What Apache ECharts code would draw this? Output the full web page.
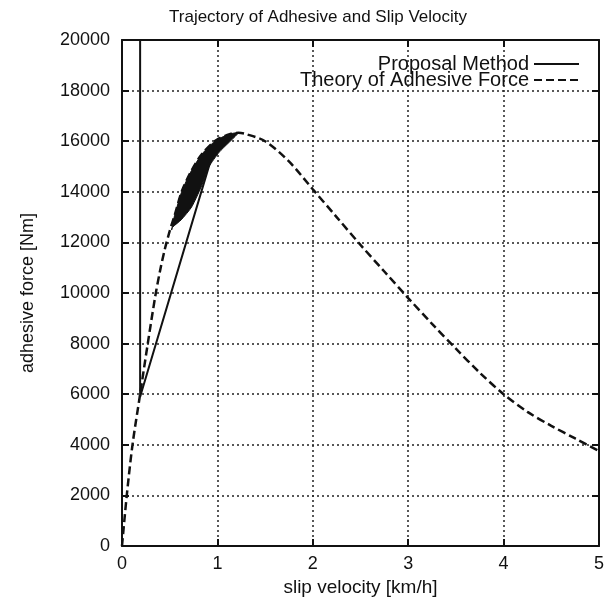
<!DOCTYPE html>
<html>
<head>
<meta charset="utf-8">
<script src="https://cdn.jsdelivr.net/npm/echarts@6/dist/echarts.min.js"></script>
<style>html,body{margin:0;padding:0;background:#fff;}#c{width:607px;height:602px;}</style>
</head>
<body>
<div id="c"></div>
<script>
// Theory of Adhesive Force (dashed)
const theoryX = [0, 0.05, 0.11, 0.19, 0.27, 0.35, 0.4, 0.45, 0.5, 0.55, 0.63, 0.73, 0.84, 0.99, 1.15, 1.22, 1.3, 1.5, 1.75, 2.0, 2.25, 2.5, 2.75, 3.0, 3.25, 3.5, 3.75, 4.0, 4.25, 4.5, 4.75, 5.0];
const theoryY = [0, 2000, 4000, 6000, 8000, 9900, 10900, 11750, 12450, 13050, 14050, 14850, 15500, 16050, 16300, 16330, 16280, 16000, 15200, 14100, 13000, 11900, 10850, 9800, 8780, 7800, 6850, 6000, 5300, 4750, 4250, 3750];
// Proposal Method trajectory (solid)
const proposalX = [0.19, 0.19, 0.95];
const proposalY = [20000, 5900, 15500];
// Proposal Method oscillation band outline (filled)
const blobX = [0.52, 0.55, 0.63, 0.73, 0.84, 0.99, 1.15, 1.22, 1.02, 0.91, 0.83, 0.73, 0.62, 0.53];
const blobY = [12490, 13050, 14050, 14850, 15500, 16050, 16300, 16330, 15570, 14980, 14190, 13400, 12890, 12600];
// Axis ticks
const xMin = 0, xMax = 5, xStep = 1;
const yMin = 0, yMax = 20000, yStep = 2000;

const ink = '#111';
const font = 'Liberation Sans, Arial, Helvetica, sans-serif';
const chart = echarts.init(document.getElementById('c'), null, {renderer: 'canvas'});

const axisCommon = {
  type: 'value',
  axisLine: {show: true, onZero: false, lineStyle: {color: ink, width: 2}},
  axisTick: {show: true, inside: true, length: 7, lineStyle: {color: ink, width: 2}},
};
const legendCommon = {
  right: 22, align: 'right', itemWidth: 45, itemHeight: 10, itemGap: 0,
  itemStyle: {color: 'transparent', borderColor: 'transparent', borderWidth: 0, opacity: 0},
  textStyle: {fontFamily: font, fontSize: 20, color: ink}
};

chart.setOption({
  animation: false,
  backgroundColor: '#fff',
  title: {
    text: 'Trajectory of Adhesive and Slip Velocity',
    left: 313, top: 4, textAlign: 'center',
    textStyle: {fontFamily: font, fontSize: 17, fontWeight: 'normal', color: ink}
  },
  grid: {left: 122, right: 3, top: 40, bottom: 56, containLabel: false},
  legend: [
    Object.assign({data: ['Proposal Method'], top: 49}, legendCommon),
    Object.assign({data: ['Theory of Adhesive Force'], top: 65}, legendCommon)
  ],
  xAxis: [
    Object.assign({}, axisCommon, {
      min: xMin, max: xMax, interval: xStep, position: 'bottom',
      name: 'slip velocity [km/h]', nameLocation: 'middle', nameGap: 23,
      nameTextStyle: {fontFamily: font, fontSize: 19, color: ink},
      axisLabel: {fontFamily: font, fontSize: 18, color: ink, margin: 9},
      splitLine: {show: true, lineStyle: {color: '#222', width: 1.5, type: [2, 3]}}
    }),
    Object.assign({}, axisCommon, {
      min: xMin, max: xMax, interval: xStep, position: 'top',
      axisLabel: {show: false}, splitLine: {show: false}
    })
  ],
  yAxis: [
    Object.assign({}, axisCommon, {
      min: yMin, max: yMax, interval: yStep, position: 'left',
      name: 'adhesive force [Nm]', nameLocation: 'middle', nameGap: 85,
      nameTextStyle: {fontFamily: font, fontSize: 18, color: ink},
      axisLabel: {fontFamily: font, fontSize: 18, color: ink, margin: 12, formatter: v => String(v)},
      splitLine: {show: true, lineStyle: {color: '#222', width: 1.5, type: [2, 3]}}
    }),
    Object.assign({}, axisCommon, {
      min: yMin, max: yMax, interval: yStep, position: 'right',
      axisLabel: {show: false}, splitLine: {show: false}
    })
  ],
  series: [
    {
      name: 'Theory of Adhesive Force', type: 'line', xAxisIndex: 0, yAxisIndex: 0,
      data: theoryX.map((x, i) => [x, theoryY[i]]),
      symbol: 'none', smooth: 0.3,
      lineStyle: {color: ink, width: 2.5, type: [8, 4]},
      itemStyle: {color: ink}, z: 3
    },
    {
      name: 'Proposal Method', type: 'line', xAxisIndex: 0, yAxisIndex: 0,
      data: proposalX.map((x, i) => [x, proposalY[i]]),
      symbol: 'none',
      lineStyle: {color: ink, width: 2},
      itemStyle: {color: ink}, z: 4
    },
    {
      name: 'Proposal Method band', type: 'custom', xAxisIndex: 0, yAxisIndex: 0,
      data: blobX.map((x, i) => [x, blobY[i]]),
      encode: {x: 0, y: 1}, clip: true, z: 5,
      renderItem: function (params, api) {
        if (params.dataIndex !== 0) return null;
        const pts = blobX.map((x, i) => api.coord([x, blobY[i]]));
        return {type: 'polygon', shape: {points: pts, smooth: 0.2}, style: {fill: ink, stroke: ink, lineWidth: 1}};
      }
    }
  ]
});
</script>
</body>
</html>
